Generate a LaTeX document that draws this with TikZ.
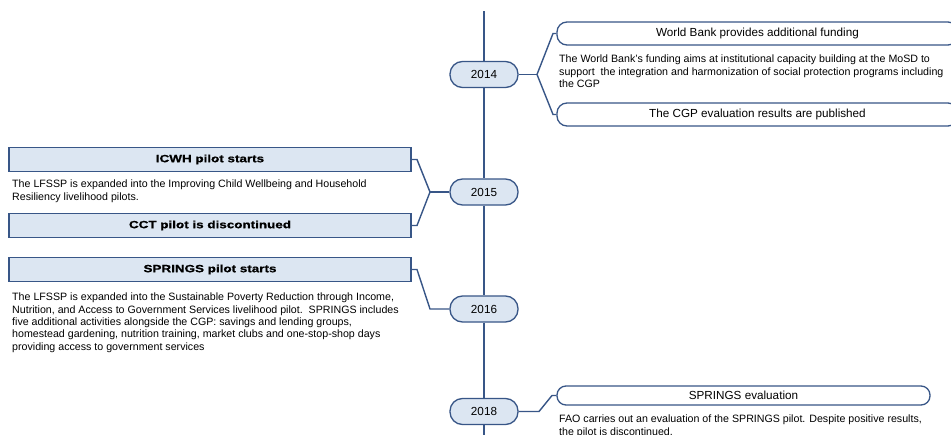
\documentclass[tikz,border=0pt]{standalone}
\usepackage{fontspec}
\setmainfont{Liberation Sans}
\newfontfamily\heavyfont{Liberation Sans Bold}[FakeStretch=1.28, FakeBold=0.8]
\usetikzlibrary{calc}
\definecolor{tlline}{RGB}{56,86,135}
\definecolor{tlfill}{RGB}{220,230,242}

\begin{document}
\begin{tikzpicture}[x=1pt,y=-1pt,
  link/.style={draw=tlline, line width=1.4pt},
  yearbox/.style={draw=tlline, fill=tlfill, line width=1.3pt, rounded corners=12.5pt,
    minimum width=68pt, minimum height=26pt, inner sep=0pt,
    font=\fontsize{11.7}{13}\selectfont},
  eventbox/.style={draw=tlline, fill=white, line width=1.3pt, rounded corners=10pt,
    minimum height=23pt, inner sep=0pt, font=\fontsize{11.7}{13}\selectfont},
  pilotbox/.style={draw=tlline, fill=tlfill, line width=1.2pt,
    minimum width=402pt, minimum height=23.5pt, inner sep=0pt,
    font=\heavyfont\fontsize{10.5}{12}\selectfont},
  note/.style={anchor=north west, inner sep=0pt, align=left,
    font=\fontsize{10.65}{12.3}\selectfont}]

\clip (0,0) rectangle (951,434);
\fill[white] (0,0) rectangle (951,434);

% timeline ends
\coordinate (top) at (484,11);
\coordinate (bottom) at (484,440);

% year markers
\node[yearbox] (y14) at (484,74.5) {2014};
\node[yearbox] (y15) at (484,192) {2015};
\node[yearbox] (y16) at (484,309) {2016};
\node[yearbox] (y18) at (484,411.5) {2018};

% spine, drawn between markers
\draw[link] (top) -- (y14.north);
\draw[link] (y14.south) -- (y15.north);
\draw[link] (y15.south) -- (y16.north);
\draw[link] (y16.south) -- (y18.north);
\draw[link] (y18.south) -- (bottom);

% 2014 events
\node[eventbox, minimum width=401pt] (wb) at (757.5,33.5) {World Bank provides additional funding};
\node[eventbox, minimum width=401pt] (cgp) at (757.5,114.5) {The CGP evaluation results are published};
\node[note] (wbtxt) at (559,55) {The World Bank's funding aims at institutional capacity building at the MoSD to\\
support\ \ the integration and harmonization of social protection programs including\\
the CGP};
\coordinate (f14) at (537,74.5);
\coordinate (f14a) at (553,33.5);
\coordinate (f14b) at (553,114.5);
\draw[link] (y14.east) -- (f14);
\draw[link] (f14) -- (f14a) -- (wb.west);
\draw[link] (f14) -- (f14b) -- (cgp.west);

% 2015 events
\node[pilotbox] (icwh) at (210,159.5) {ICWH pilot starts};
\node[pilotbox] (cct) at (210,225.5) {CCT pilot is discontinued};
\node[note] (icwhtxt) at (12,179.8) {The LFSSP is expanded into the Improving Child Wellbeing and Household\\
Resiliency livelihood pilots.};
\coordinate (f15) at (430,192);
\coordinate (f15a) at (417,159.5);
\coordinate (f15b) at (417,225.5);
\draw[link] (y15.west) -- (f15);
\draw[link] (f15) -- (f15a) -- (icwh.east);
\draw[link] (f15) -- (f15b) -- (cct.east);

% 2016 events
\node[pilotbox] (spr) at (210,269.5) {SPRINGS pilot starts};
\node[note] (sprtxt) at (12,293) {The LFSSP is expanded into the Sustainable Poverty Reduction through Income,\\
Nutrition, and Access to Government Services livelihood pilot.\ \ SPRINGS includes\\
five additional activities alongside the CGP: savings and lending groups,\\
homestead gardening, nutrition training, market clubs and one-stop-shop days\\
providing access to government services};
\coordinate (f16a) at (417,269.5);
\coordinate (f16) at (430,309);
\draw[link] (y16.west) -- (f16) -- (f16a) -- (spr.east);

% 2018 events
\node[eventbox, minimum width=373pt, minimum height=19pt, rounded corners=9pt] (se) at (743.5,395.5) {SPRINGS evaluation};
\node[note] (setxt) at (559,415) {FAO carries out an evaluation of the SPRINGS pilot. Despite positive results,\\
the pilot is discontinued.};
\coordinate (f18) at (539,411.5);
\coordinate (f18a) at (552,395.5);
\draw[link] (y18.east) -- (f18) -- (f18a) -- (se.west);

\end{tikzpicture}
\end{document}
